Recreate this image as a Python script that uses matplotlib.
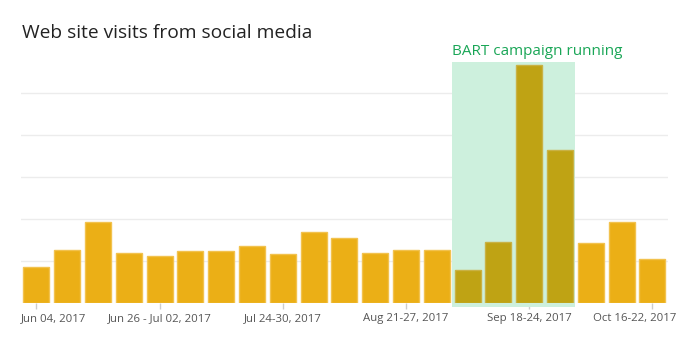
# Web site visits from social media, weekly, with BART campaign highlighted
import matplotlib.pyplot as plt
import matplotlib.transforms as mtransforms
import numpy as np

plt.rcParams['font.family'] = ['Open Sans', 'DejaVu Sans']

weeks = ["Jun 04, 2017", "Jun 05-11, 2017", "Jun 12-18, 2017", "Jun 19-25, 2017",
         "Jun 26 - Jul 02, 2017", "Jul 03-09, 2017", "Jul 10-16, 2017",
         "Jul 17-23, 2017", "Jul 24-30, 2017", "Jul 31 - Aug 06, 2017",
         "Aug 07-13, 2017", "Aug 14-20, 2017", "Aug 21-27, 2017",
         "Aug 28 - Sep 03, 2017", "Sep 04-10, 2017", "Sep 11-17, 2017",
         "Sep 18-24, 2017", "Sep 25 - Oct 01, 2017", "Oct 02-08, 2017",
         "Oct 09-15, 2017", "Oct 16-22, 2017"]
visits = [86, 127, 193, 119, 113, 125, 125, 137, 117, 169, 155,
          118, 126, 126, 79, 146, 566, 365, 143, 194, 105]
campaign_weeks = ["Sep 04-10, 2017", "Sep 11-17, 2017",
                  "Sep 18-24, 2017", "Sep 25 - Oct 01, 2017"]
shown_labels = ["Jun 04, 2017", "Jun 26 - Jul 02, 2017", "Jul 24-30, 2017",
                "Aug 21-27, 2017", "Sep 18-24, 2017", "Oct 16-22, 2017"]

x = np.arange(len(weeks))
in_campaign = np.array([w in campaign_weeks for w in weeks])
colors = np.where(in_campaign, "#bfa314", "#ebaf16")
edges = np.where(in_campaign, "#c9b245", "#f2c24e")

fig = plt.figure(figsize=(7, 3.43), dpi=100)
ax = fig.add_axes([0.03, 0.1166, 0.924, 0.7035])

ax.bar(x, visits, width=0.84, color=colors, edgecolor=edges, linewidth=1, zorder=2)

# campaign shading
c0 = x[in_campaign].min() - 0.5
c1 = x[in_campaign].max() + 0.5
ax.axvspan(c0, c1, ymin=-0.015, ymax=1, color="#cdf0dd", zorder=1, clip_on=False, lw=0)
trans = mtransforms.blended_transform_factory(ax.transData, ax.transAxes)
ax.annotate("BART campaign running", xy=(c0, 1.0), xycoords=trans,
            xytext=(0, 4.8), textcoords="offset points",
            color="#1aa657", fontsize=11, ha="left", va="baseline")

ax.set_xlim(-0.5, len(weeks) - 0.5)
ax.set_ylim(0, 575)
ax.set_yticks([100, 200, 300, 400, 500])
ax.yaxis.grid(True, color="#ececec", linewidth=1, zorder=0)
ax.set_axisbelow(True)
ax.tick_params(axis="y", left=False, labelleft=False)

ticks = [weeks.index(w) for w in shown_labels]
ax.set_xticks(ticks)
ax.set_xticklabels(shown_labels, fontsize=8.2, color="#555555")
ax.tick_params(axis="x", length=4, color="#cccccc", width=1, pad=3)

# keep the end labels inside the chart, like the original
labels = ax.get_xticklabels()
labels[0].set_ha("left")
labels[0].set_transform(labels[0].get_transform() +
                        mtransforms.ScaledTranslation(-15 / 100, 0, fig.dpi_scale_trans))
labels[-1].set_ha("right")
labels[-1].set_transform(labels[-1].get_transform() +
                         mtransforms.ScaledTranslation(24 / 100, 0, fig.dpi_scale_trans))

for s in ax.spines.values():
    s.set_visible(False)

fig.text(22 / 700, 1 - 38 / 343, "Web site visits from social media",
         fontsize=13.75, color="#222222", ha="left", va="baseline")

fig.savefig("out.png", dpi=100)
